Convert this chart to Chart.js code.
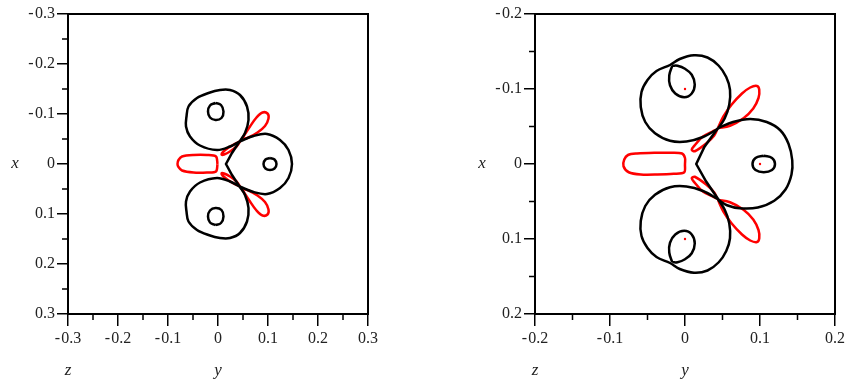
<!DOCTYPE html>
<html>
<head>
<meta charset="utf-8">
<script src="https://cdn.jsdelivr.net/npm/chart.js@4.4.1/dist/chart.umd.min.js"></script>
<style>
    html, body { margin: 0; padding: 0; background: #fff; }
    canvas { position: absolute; top: 0; }
    #leftChart { left: 0; }
    #rightChart { left: 427px; }
</style>
</head>
<body>
<canvas id="leftChart" width="427" height="381"></canvas>
<canvas id="rightChart" width="427" height="381"></canvas>
<script>
// tick values
const leftMinorTicks = [-0.25, -0.15, -0.05, 0.05, 0.15, 0.25];
const rightMinorTicks = [-0.15, -0.05, 0.05, 0.15];

// left panel, black contours  [y, x]
const leftUpperBlob = [[0.043,-0.045],[0.054,-0.062],[0.061,-0.088],[0.058,-0.115],[0.044,-0.138],[0.024,-0.148],[0.004,-0.148],[-0.019,-0.142],[-0.042,-0.132],[-0.059,-0.115],[-0.063,-0.095],[-0.064,-0.075],[-0.056,-0.055],[-0.036,-0.037],[-0.002,-0.028],[0.024,-0.035],[0.043,-0.045]];
const leftLowerBlob = [[0.043,0.045],[0.054,0.062],[0.061,0.088],[0.058,0.115],[0.044,0.138],[0.024,0.148],[0.004,0.148],[-0.019,0.142],[-0.042,0.132],[-0.059,0.115],[-0.063,0.095],[-0.064,0.075],[-0.056,0.055],[-0.036,0.037],[-0.002,0.028],[0.024,0.035],[0.043,0.045]];
const leftUpperRing = [[-0.005,-0.122],[0.006,-0.118],[0.011,-0.105],[0.007,-0.092],[-0.005,-0.088],[-0.016,-0.093],[-0.020,-0.105],[-0.016,-0.117],[-0.005,-0.122]];
const leftLowerRing = [[-0.005,0.122],[0.006,0.118],[0.011,0.105],[0.007,0.092],[-0.005,0.088],[-0.016,0.093],[-0.020,0.105],[-0.016,0.117],[-0.005,0.122]];
const leftRightArc = [[0.043,-0.045],[0.071,-0.056],[0.098,-0.060],[0.124,-0.048],[0.141,-0.028],[0.148,0],[0.141,0.028],[0.124,0.048],[0.098,0.060],[0.071,0.056],[0.043,0.045]];
const leftNotch = [[0.043,0.045],[0.028,0.022],[0.016,0],[0.028,-0.022],[0.043,-0.045]];
const leftRightRing = [[0.104,-0.012],[0.113,-0.009],[0.117,0],[0.113,0.009],[0.104,0.012],[0.095,0.009],[0.091,0],[0.095,-0.009],[0.104,-0.012]];

// left panel, red contours
const leftRod = [[-0.001,0],[-0.004,0.015],[-0.022,0.017],[-0.049,0.017],[-0.072,0.013],[-0.079,0.006],[-0.081,0],[-0.079,-0.008],[-0.072,-0.015],[-0.049,-0.018],[-0.022,-0.018],[-0.004,-0.015],[-0.001,0]];
const leftUpperPetal = [[0.047,-0.049],[0.064,-0.075],[0.077,-0.093],[0.089,-0.103],[0.099,-0.101],[0.101,-0.091],[0.094,-0.076],[0.079,-0.063],[0.061,-0.053],[0.047,-0.049]];
const leftLowerPetal = [[0.047,0.049],[0.064,0.075],[0.077,0.093],[0.089,0.103],[0.099,0.101],[0.101,0.091],[0.094,0.076],[0.079,0.063],[0.061,0.053],[0.047,0.049]];
const leftUpperSmall = [[0.044,-0.045],[0.033,-0.040],[0.020,-0.032],[0.010,-0.024],[0.007,-0.019],[0.012,-0.019],[0.024,-0.025],[0.037,-0.035],[0.044,-0.045]];
const leftLowerSmall = [[0.044,0.045],[0.033,0.040],[0.020,0.032],[0.010,0.024],[0.007,0.019],[0.012,0.019],[0.024,0.025],[0.037,0.035],[0.044,0.045]];

// right panel, black contours
const rightUpperSpiral = [[0.044,-0.047],[0.024,-0.036],[0.002,-0.030],[-0.020,-0.031],[-0.040,-0.041],[-0.053,-0.056],[-0.059,-0.076],[-0.058,-0.096],[-0.050,-0.112],[-0.038,-0.124],[-0.020,-0.132],[-0.007,-0.140],[0.012,-0.145],[0.030,-0.142],[0.045,-0.131],[0.055,-0.116],[0.060,-0.099],[0.059,-0.079],[0.053,-0.061],[0.044,-0.047]];
const rightLowerSpiral = [[0.044,0.047],[0.024,0.036],[0.002,0.030],[-0.020,0.031],[-0.040,0.041],[-0.053,0.056],[-0.059,0.076],[-0.058,0.096],[-0.050,0.112],[-0.038,0.124],[-0.020,0.132],[-0.007,0.140],[0.012,0.145],[0.030,0.142],[0.045,0.131],[0.055,0.116],[0.060,0.099],[0.059,0.079],[0.053,0.061],[0.044,0.047]];
const rightUpperCurl = [[-0.017,-0.131],[-0.021,-0.118],[-0.020,-0.105],[-0.013,-0.094],[-0.001,-0.089],[0.009,-0.094],[0.013,-0.106],[0.009,-0.119],[0.000,-0.127],[-0.010,-0.131],[-0.017,-0.131]];
const rightLowerCurl = [[-0.017,0.131],[-0.021,0.118],[-0.020,0.105],[-0.013,0.094],[-0.001,0.089],[0.009,0.094],[0.013,0.106],[0.009,0.119],[0.000,0.127],[-0.010,0.131],[-0.017,0.131]];
const rightRightArc = [[0.044,-0.048],[0.064,-0.056],[0.087,-0.060],[0.109,-0.056],[0.127,-0.045],[0.138,-0.027],[0.143,-0.005],[0.142,0.014],[0.134,0.034],[0.119,0.049],[0.097,0.058],[0.073,0.059],[0.056,0.055],[0.045,0.048]];
const rightNotch = [[0.045,0.048],[0.028,0.023],[0.015,0],[0.026,-0.023],[0.044,-0.048]];
const rightRightRing = [[0.105,-0.011],[0.116,-0.008],[0.120,0],[0.116,0.008],[0.105,0.011],[0.094,0.008],[0.090,0],[0.094,-0.008],[0.105,-0.011]];

// right panel, red contours
const rightRod = [[0,0],[-0.001,0.011],[-0.015,0.013],[-0.037,0.014],[-0.059,0.014],[-0.075,0.011],[-0.082,0.003],[-0.081,-0.006],[-0.076,-0.012],[-0.064,-0.014],[-0.041,-0.015],[-0.019,-0.015],[-0.004,-0.014],[0,-0.008],[0,0]];
const rightUpperPetal = [[0.044,-0.048],[0.051,-0.063],[0.062,-0.079],[0.076,-0.094],[0.087,-0.102],[0.096,-0.104],[0.099,-0.099],[0.098,-0.088],[0.091,-0.074],[0.078,-0.061],[0.060,-0.051],[0.044,-0.048]];
const rightLowerPetal = [[0.044,0.048],[0.051,0.063],[0.062,0.079],[0.076,0.094],[0.087,0.102],[0.096,0.104],[0.099,0.099],[0.098,0.088],[0.091,0.074],[0.078,0.061],[0.060,0.051],[0.044,0.048]];
const rightUpperSmall = [[0.043,-0.046],[0.036,-0.043],[0.023,-0.036],[0.013,-0.025],[0.009,-0.019],[0.013,-0.017],[0.029,-0.028],[0.039,-0.038],[0.043,-0.046]];
const rightLowerSmall = [[0.043,0.046],[0.036,0.043],[0.023,0.036],[0.013,0.025],[0.009,0.019],[0.013,0.017],[0.029,0.028],[0.039,0.038],[0.043,0.046]];
const rightDots = [[0,-0.1],[0.1,0],[0,0.1]];


const BLACK = '#000000';
const RED = '#ff0000';
const SERIF = "'Liberation Serif', 'DejaVu Serif', serif";

function toPoints(arr) {
    return arr.map(([x, y]) => ({ x: x, y: y }));
}

function curve(arr, color, tension = 0.35) {
    return {
        type: 'scatter',
        data: toPoints(arr),
        showLine: true,
        borderColor: color,
        borderWidth: 2.5,
        pointRadius: 0,
        fill: false,
        tension: tension
    };
}

function formatTick(value) {
    const v = Math.round(value * 10) / 10;
    if (v === 0) return '0';
    return v < 0 ? '-\u200a' + Math.abs(v).toFixed(1) : v.toFixed(1);
}

// frame, minor ticks and axis letters
const framePlugin = {
    id: 'frameTicks',
    afterDraw(chart, args, opts) {
        const ctx = chart.ctx;
        const area = chart.chartArea;
        const xs = chart.scales.x;
        const ys = chart.scales.y;
        ctx.save();
        ctx.strokeStyle = BLACK;
        ctx.lineWidth = 2;
        ctx.strokeRect(area.left, area.top, area.right - area.left, area.bottom - area.top);

        ctx.lineWidth = 1.5;
        ctx.beginPath();
        opts.minor.forEach(v => {
            const px = xs.getPixelForValue(v);
            ctx.moveTo(px, area.bottom);
            ctx.lineTo(px, area.bottom + 6);
            const py = ys.getPixelForValue(v);
            ctx.moveTo(area.left - 6, py);
            ctx.lineTo(area.left, py);
        });
        ctx.stroke();

        ctx.fillStyle = '#222';
        ctx.font = 'italic 17px ' + SERIF;
        ctx.textAlign = 'center';
        ctx.textBaseline = 'middle';
        ctx.fillText('x', area.left - 53, ys.getPixelForValue(0));
        ctx.fillText('z', area.left, 371);
        ctx.fillText('y', xs.getPixelForValue(0), 371);
        ctx.restore();
    }
};

function makeChart(id, datasets, range, minor, padLeft, padRight) {
    const ctx = document.getElementById(id).getContext('2d');
    const tickFont = { family: SERIF, size: 16 };
    return new Chart(ctx, {
        type: 'scatter',
        data: { datasets: datasets },
        options: {
            responsive: false,
            animation: false,
            layout: { padding: { left: padLeft, right: padRight, top: 14, bottom: 0 } },
            plugins: {
                legend: { display: false },
                tooltip: { enabled: false },
                frameTicks: { minor: minor }
            },
            scales: {
                x: {
                    type: 'linear',
                    position: 'bottom',
                    min: -range,
                    max: range,
                    afterFit: s => { s.height = 67; },
                    border: { display: false },
                    grid: { drawOnChartArea: false, drawTicks: true, tickLength: 12, color: BLACK, lineWidth: 1.5 },
                    ticks: { stepSize: 0.1, color: '#222', font: tickFont, padding: 3, maxRotation: 0, autoSkip: false, callback: formatTick }
                },
                y: {
                    type: 'linear',
                    position: 'left',
                    reverse: true,
                    min: -range,
                    max: range,
                    afterFit: s => { s.width = 68; },
                    border: { display: false },
                    grid: { drawOnChartArea: false, drawTicks: true, tickLength: 11, color: BLACK, lineWidth: 1.5 },
                    ticks: { stepSize: 0.1, color: '#222', font: tickFont, padding: 2, autoSkip: false, callback: formatTick }
                }
            }
        },
        plugins: [framePlugin]
    });
}

makeChart('leftChart', [
    curve(leftUpperBlob, BLACK),
    curve(leftLowerBlob, BLACK),
    curve(leftUpperRing, BLACK, 0.45),
    curve(leftLowerRing, BLACK, 0.45),
    curve(leftRightArc, BLACK),
    curve(leftNotch, BLACK, 0),
    curve(leftRightRing, BLACK, 0.45),
    curve(leftRod, RED, 0.3),
    curve(leftUpperPetal, RED),
    curve(leftLowerPetal, RED),
    curve(leftUpperSmall, RED),
    curve(leftLowerSmall, RED)
], 0.3, leftMinorTicks, 0, 59);

makeChart('rightChart', [
    curve(rightUpperSpiral, BLACK),
    curve(rightLowerSpiral, BLACK),
    curve(rightUpperCurl, BLACK, 0.4),
    curve(rightLowerCurl, BLACK, 0.4),
    curve(rightRightArc, BLACK),
    curve(rightNotch, BLACK, 0),
    curve(rightRightRing, BLACK, 0.45),
    curve(rightRod, RED, 0.3),
    curve(rightUpperPetal, RED),
    curve(rightLowerPetal, RED),
    curve(rightUpperSmall, RED),
    curve(rightLowerSmall, RED),
    {
        type: 'scatter',
        data: toPoints(rightDots),
        pointRadius: 1.2,
        pointBackgroundColor: RED,
        pointBorderWidth: 0,
        showLine: false
    }
], 0.2, rightMinorTicks, 40, 19);
</script>
</body>
</html>
